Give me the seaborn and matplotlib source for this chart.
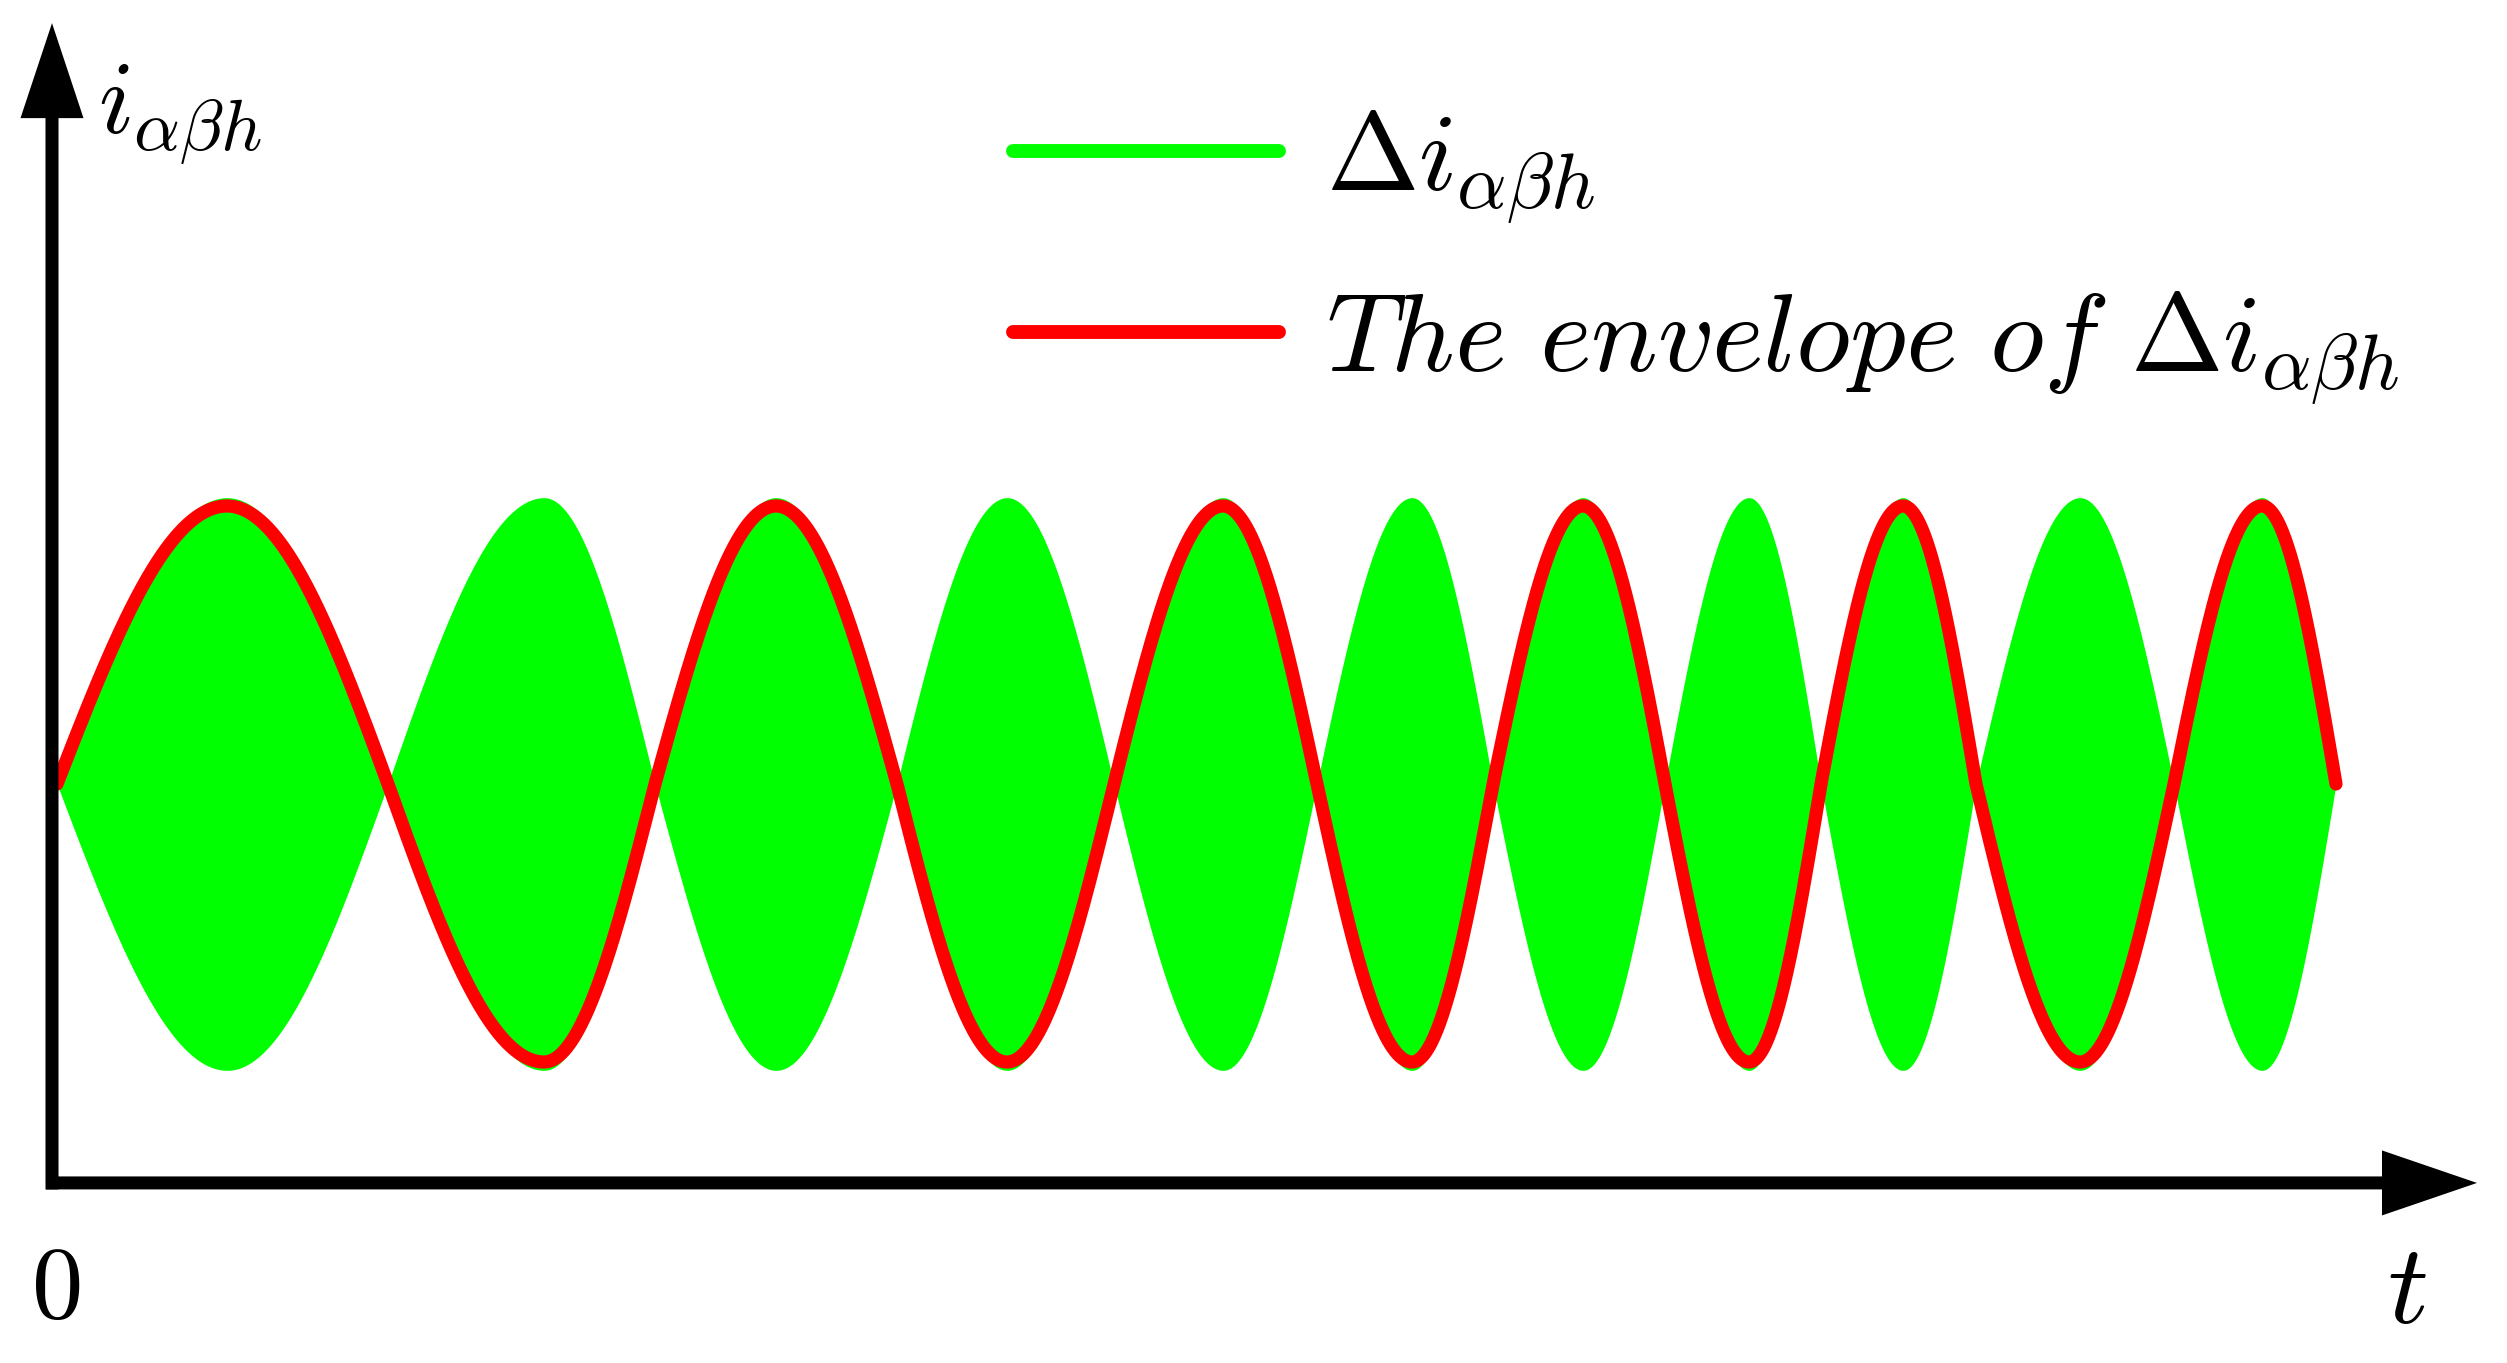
import numpy as np
import pandas as pd
import matplotlib
matplotlib.use("Agg")
import matplotlib.pyplot as plt
import seaborn as sns
from matplotlib.lines import Line2D

sns.set_theme(style="white")
plt.rcParams["mathtext.fontset"] = "cm"
plt.rcParams["font.family"] = ["DejaVu Serif"]
plt.rcParams["text.color"] = "black"

# ---- data (time in arbitrary units, origin = y axis) ----
# zero crossings of the envelope of delta i
envelope_crossings = [0.05, 3.36, 6.03, 8.45, 10.62, 12.65, 14.41, 16.13, 17.69, 19.24, 21.22, 22.84]
# positions of the envelope maxima / minima (alternating, first one a maximum)
envelope_extrema = [1.75, 4.92, 7.24, 9.55, 11.71, 13.60, 15.31, 16.97, 18.51, 20.28, 22.10]
envelope_amplitude = 1.0      # peak of the red envelope
signal_amplitude = 1.03       # peak of the green Δi band
samples_per_quarter = 120

axis_level = -1.435           # where the t axis crosses
t_axis_end = 24.25
i_axis_end = 2.737

legend_labels = [r"$\Delta i_{\alpha\beta h}$",
                 r"$\mathit{The\ envelope\ of\ }\Delta i_{\alpha\beta h}$"]
y_label = r"$i_{\alpha\beta h}$"
x_label = r"$t$"
origin_label = r"$0$"

GREEN = "#00FF00"
RED = "#FF0000"

# ---- build the curve: quarter sine waves between crossings and extrema ----
ts, env = [], []
for k, p in enumerate(envelope_extrema):
    a, b = envelope_crossings[k], envelope_crossings[k + 1]
    sign = 1 if k % 2 == 0 else -1
    rise = np.linspace(a, p, samples_per_quarter, endpoint=False)
    fall = np.linspace(p, b, samples_per_quarter, endpoint=(k == len(envelope_extrema) - 1))
    ts += [rise, fall]
    env += [sign * envelope_amplitude * np.sin(0.5 * np.pi * (rise - a) / (p - a)),
            sign * envelope_amplitude * np.cos(0.5 * np.pi * (fall - p) / (b - p))]
ts = np.concatenate(ts)
env = np.concatenate(env)
df = pd.DataFrame({"t": ts, "envelope": env,
                   "upper": np.abs(env) * signal_amplitude / envelope_amplitude})

# ---- figure ----
W, H = 2507, 1363
fig = plt.figure(figsize=(W / 100, H / 100), dpi=100)
ax = fig.add_axes([0, 0, 1, 1])
px_x = 100.0   # pixels per t unit
px_y = 278.0   # pixels per amplitude unit
x0_px, y0_px = 52, 784
ax.set_xlim(-x0_px / px_x, (W - x0_px) / px_x)
ax.set_ylim(-(H - y0_px) / px_y, y0_px / px_y)
ax.axis("off")

ax.fill_between(df["t"], -df["upper"], df["upper"], color=GREEN, lw=0, zorder=2)
sns.lineplot(data=df, x="t", y="envelope", color=RED, lw=9.5, estimator=None,
             sort=False, ax=ax, zorder=3, legend=False)

# axes with arrows
shaft_y = 13 / px_y
shaft_x = 13 / px_x
ax.arrow(-0.06, axis_level, t_axis_end + 0.06, 0, width=shaft_y, head_width=65 / px_y,
         head_length=95 / px_x, length_includes_head=True, color="black", lw=0, zorder=5)
ax.arrow(0, axis_level - shaft_y / 2, 0, i_axis_end - axis_level + shaft_y / 2, width=shaft_x,
         head_width=63 / px_x, head_length=95 / px_y, length_includes_head=True,
         color="black", lw=0, zorder=5)

ax.text(0.46, (y0_px - 133) / px_y, y_label, fontsize=74, ha="left", va="baseline", color="black")
ax.text(0.04, (y0_px - 1318) / px_y, origin_label, fontsize=74, ha="center", va="baseline", color="black")
ax.text(23.55, (y0_px - 1323) / px_y, x_label, fontsize=82, ha="center", va="baseline", color="black")

handles = [Line2D([0], [0], color=GREEN, lw=10, solid_capstyle="round"),
           Line2D([0], [0], color=RED, lw=10, solid_capstyle="round")]
leg = ax.legend(handles, legend_labels, loc="upper left", bbox_to_anchor=(0.404, 0.922),
                frameon=False, fontsize=80, handlelength=2.4, handletextpad=0.42,
                labelspacing=0.55, borderpad=0, borderaxespad=0)
for txt in leg.get_texts():
    txt.set_color("black")

fig.savefig("out.png", dpi=100)
